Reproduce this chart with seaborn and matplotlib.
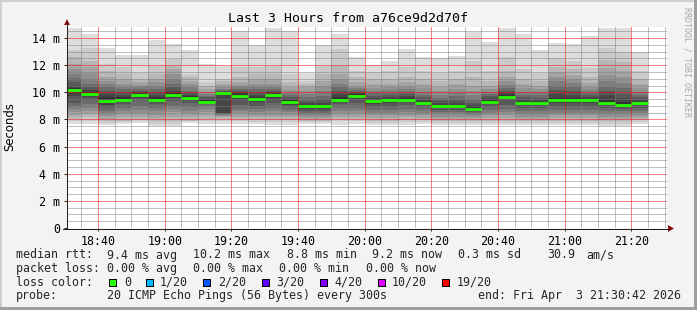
import numpy as np
import matplotlib
matplotlib.use("Agg")
import matplotlib.pyplot as plt
import seaborn as sns
from matplotlib.lines import Line2D
from matplotlib.patches import Rectangle, Polygon
from matplotlib.transforms import IdentityTransform

# ---------------- data ----------------
bucket_start = ["18:30", "18:35", "18:40", "18:45", "18:50", "18:55",
                "19:00", "19:05", "19:10", "19:15", "19:20", "19:25",
                "19:30", "19:35", "19:40", "19:45", "19:50", "19:55",
                "20:00", "20:05", "20:10", "20:15", "20:20", "20:25",
                "20:30", "20:35", "20:40", "20:45", "20:50", "20:55",
                "21:00", "21:05", "21:10", "21:15", "21:20"]

median_ms = [10.20, 9.87, 9.33, 9.43, 9.78, 9.43, 9.82, 9.57, 9.30, 9.93,
             9.74, 9.52, 9.77, 9.29, 8.98, 8.98, 9.47, 9.76, 9.33, 9.41,
             9.43, 9.19, 8.99, 8.99, 8.79, 9.31, 9.68, 9.19, 9.19, 9.41,
             9.41, 9.41, 9.24, 9.06, 9.19]

# 20 sorted ping round-trip times (ms) per 5-minute bucket
ping_ms = [
    [7.66, 7.85, 8.07, 8.27, 8.52, 8.76, 9.00, 9.25, 9.70, 10.10, 10.29, 10.48, 10.73, 11.05, 11.34, 11.70, 12.08, 12.57, 13.10, 14.73],
    [7.66, 7.90, 8.15, 8.40, 8.64, 8.88, 9.13, 9.40, 9.65, 9.85, 10.04, 10.19, 10.36, 10.60, 10.97, 11.39, 11.83, 12.30, 13.30, 14.29],
    [7.58, 7.75, 7.90, 8.07, 8.27, 8.45, 8.59, 8.88, 9.10, 9.30, 9.62, 9.87, 10.11, 10.36, 10.60, 10.85, 11.10, 11.59, 12.08, 13.26],
    [7.66, 7.80, 7.90, 8.15, 8.39, 8.64, 8.88, 9.13, 9.30, 9.40, 9.62, 9.80, 9.99, 10.21, 10.41, 10.65, 10.97, 11.34, 11.83, 12.77],
    [7.71, 7.85, 7.95, 8.15, 8.39, 8.70, 9.01, 9.40, 9.60, 9.75, 9.87, 9.99, 10.11, 10.21, 10.36, 10.53, 10.73, 10.97, 11.46, 12.77],
    [7.50, 7.66, 7.85, 8.10, 8.34, 8.64, 8.88, 9.13, 9.30, 9.40, 9.62, 9.80, 9.99, 10.24, 10.48, 10.73, 10.97, 11.34, 11.96, 13.85],
    [7.53, 7.66, 7.90, 8.20, 8.52, 8.80, 9.01, 9.38, 9.60, 9.80, 9.94, 10.11, 10.36, 10.65, 10.97, 11.34, 11.71, 11.96, 12.45, 13.55],
    [7.71, 7.85, 7.90, 8.15, 8.39, 8.64, 8.90, 9.25, 9.45, 9.55, 9.70, 9.82, 9.97, 10.11, 10.36, 10.60, 10.85, 11.10, 11.34, 13.11],
    [7.66, 7.85, 8.02, 8.27, 8.52, 8.76, 9.01, 9.15, 9.25, 9.28, 9.40, 9.50, 9.62, 9.74, 9.87, 10.04, 10.24, 10.48, 10.73, 12.08],
    [7.66, 7.85, 8.02, 8.15, 8.27, 8.34, 8.39, 8.42, 8.50, 9.85, 10.00, 10.04, 10.11, 10.16, 10.24, 10.36, 10.60, 10.85, 10.97, 11.96],
    [7.66, 7.85, 8.02, 8.20, 8.39, 8.59, 8.80, 9.10, 9.45, 9.70, 9.87, 9.99, 10.11, 10.24, 10.36, 10.53, 10.73, 11.10, 11.83, 14.49],
    [7.66, 7.80, 7.95, 8.15, 8.34, 8.52, 8.76, 9.01, 9.30, 9.50, 9.67, 9.82, 9.99, 10.21, 10.41, 10.65, 10.97, 11.34, 11.83, 13.50],
    [7.61, 7.80, 7.95, 8.15, 8.34, 8.59, 8.88, 9.20, 9.50, 9.75, 9.87, 9.99, 10.11, 10.24, 10.41, 10.65, 10.97, 11.34, 11.96, 14.73],
    [7.61, 7.80, 7.95, 8.15, 8.34, 8.52, 8.70, 8.90, 9.10, 9.27, 9.40, 9.50, 9.62, 9.80, 9.97, 10.16, 10.41, 10.73, 11.34, 14.54],
    [7.66, 7.80, 7.90, 8.02, 8.15, 8.30, 8.45, 8.60, 8.76, 8.95, 9.10, 9.25, 9.38, 9.62, 9.87, 10.11, 10.36, 10.60, 10.85, 11.46],
    [7.66, 7.80, 7.90, 8.02, 8.15, 8.30, 8.45, 8.60, 8.76, 8.95, 9.10, 9.25, 9.50, 9.74, 10.11, 10.48, 10.85, 11.34, 11.96, 13.50],
    [7.61, 7.85, 8.00, 8.15, 8.39, 8.64, 8.88, 9.13, 9.30, 9.45, 9.67, 9.87, 10.11, 10.36, 10.65, 10.97, 11.34, 11.96, 13.18, 14.29],
    [7.66, 7.85, 8.02, 8.20, 8.39, 8.59, 8.88, 9.20, 9.50, 9.75, 9.87, 9.94, 10.04, 10.16, 10.31, 10.48, 10.73, 11.10, 11.59, 12.60],
    [7.60, 7.75, 7.90, 8.10, 8.30, 8.50, 8.69, 8.95, 9.15, 9.30, 9.45, 9.60, 9.75, 9.92, 10.10, 10.30, 10.60, 10.97, 11.50, 12.00],
    [7.60, 7.75, 7.90, 8.10, 8.30, 8.50, 8.70, 8.95, 9.20, 9.38, 9.50, 9.65, 9.80, 9.97, 10.16, 10.36, 10.60, 10.97, 11.59, 12.30],
    [7.60, 7.80, 7.95, 8.15, 8.35, 8.55, 8.80, 9.05, 9.28, 9.42, 9.55, 9.70, 9.87, 10.04, 10.24, 10.48, 10.73, 11.10, 11.83, 13.18],
    [7.66, 7.80, 7.95, 8.10, 8.30, 8.50, 8.70, 8.90, 9.05, 9.17, 9.30, 9.45, 9.62, 9.82, 10.04, 10.30, 10.60, 10.97, 11.59, 12.62],
    [7.60, 7.75, 7.90, 8.05, 8.20, 8.40, 8.55, 8.70, 8.85, 8.97, 9.10, 9.25, 9.40, 9.60, 9.82, 10.11, 10.41, 10.85, 11.46, 12.50],
    [7.60, 7.75, 7.90, 8.05, 8.20, 8.40, 8.55, 8.70, 8.85, 8.97, 9.10, 9.25, 9.45, 9.70, 9.97, 10.24, 10.60, 11.00, 11.59, 12.67],
    [7.60, 7.75, 7.90, 8.02, 8.15, 8.30, 8.45, 8.58, 8.70, 8.78, 8.90, 9.05, 9.25, 9.50, 9.80, 10.11, 10.48, 11.10, 12.30, 14.46],
    [7.60, 7.75, 7.90, 8.10, 8.30, 8.50, 8.70, 8.95, 9.15, 9.28, 9.40, 9.55, 9.70, 9.87, 10.04, 10.24, 10.48, 10.85, 11.59, 13.72],
    [7.60, 7.75, 7.90, 8.10, 8.30, 8.55, 8.80, 9.10, 9.40, 9.65, 9.80, 9.94, 10.11, 10.30, 10.53, 10.80, 11.10, 11.60, 12.60, 14.71],
    [7.60, 7.75, 7.90, 8.05, 8.20, 8.40, 8.60, 8.85, 9.05, 9.17, 9.30, 9.45, 9.62, 9.82, 10.04, 10.30, 10.60, 11.00, 11.70, 14.29],
    [7.60, 7.75, 7.90, 8.05, 8.20, 8.40, 8.60, 8.85, 9.05, 9.17, 9.30, 9.45, 9.60, 9.80, 10.00, 10.24, 10.50, 10.85, 11.46, 13.11],
    [7.60, 7.75, 7.90, 8.10, 8.30, 8.50, 8.70, 8.95, 9.20, 9.38, 9.60, 9.90, 10.20, 10.50, 10.80, 11.10, 11.50, 11.90, 12.50, 13.65],
    [7.60, 7.75, 7.90, 8.10, 8.30, 8.50, 8.70, 8.95, 9.20, 9.38, 9.55, 9.80, 10.10, 10.40, 10.70, 11.00, 11.30, 11.70, 12.30, 13.55],
    [7.60, 7.75, 7.90, 8.10, 8.30, 8.50, 8.70, 8.95, 9.20, 9.38, 9.50, 9.65, 9.80, 9.97, 10.16, 10.40, 10.70, 11.10, 11.80, 14.14],
    [7.55, 7.70, 7.85, 8.00, 8.20, 8.40, 8.60, 8.85, 9.05, 9.22, 9.50, 9.80, 10.10, 10.40, 10.80, 11.30, 11.80, 12.40, 13.30, 14.71],
    [7.55, 7.70, 7.85, 8.00, 8.20, 8.40, 8.60, 8.80, 8.97, 9.05, 9.30, 9.60, 9.90, 10.30, 10.70, 11.10, 11.60, 12.20, 13.00, 14.71],
    [7.66, 7.80, 7.95, 8.10, 8.25, 8.45, 8.65, 8.85, 9.05, 9.17, 9.30, 9.45, 9.62, 9.82, 10.04, 10.30, 10.60, 10.97, 11.60, 12.94],
]

x_tick_labels = ["18:40", "19:00", "19:20", "19:40", "20:00", "20:20", "20:40", "21:00", "21:20"]
y_tick_values = [0, 2, 4, 6, 8, 10, 12, 14]
y_tick_labels = ["0", "2 m", "4 m", "6 m", "8 m", "10 m", "12 m", "14 m"]

loss_labels = ["0", "1/20", "2/20", "3/20", "4/20", "10/20", "19/20"]
loss_colors = ["#26ff00", "#00b8ff", "#0059ff", "#5e00ff", "#7e00ff", "#dd00ff", "#ff0000"]

title = "Last 3 Hours from a76ce9d2d70f"
window_start = "18:30:42"
window_end = "21:30:42"
bucket_minutes = 5

# ---------------- figure ----------------
sns.set_theme(style="white")
plt.rcParams["font.family"] = ["DejaVu Sans Mono", "DejaVu Sans"]

W, H = 697, 310
fig = plt.figure(figsize=(W / 100, H / 100), dpi=100, facecolor="#f3f3f3")


def to_min(s):
    parts = [int(p) for p in s.split(":")]
    return (parts[0] - 18) * 60 + parts[1] + (parts[2] / 60 if len(parts) > 2 else 0)


x0, x1 = to_min(window_start), to_min(window_end)
y_top = 14.8

ax_left, ax_right, ax_bottom, ax_topy = 67, 667, 228, 27.2
ax = fig.add_axes([ax_left / W, 1 - ax_bottom / H,
                   (ax_right - ax_left) / W, (ax_bottom - ax_topy) / H])
ax.set_facecolor("white")

t = np.array([to_min(s) for s in bucket_start])
P = np.array(ping_ms)

# smoke: nested bands, outermost lightest
half = 10
for i in range(1, half + 1):
    shade = int(190 / half * (half - i)) + 50
    col = "#%02x%02x%02x" % (shade, shade, shade)
    lo = P[:, i - 1]
    hi = P[:, 20 - i]
    ax.bar(t, hi - lo, bottom=lo, width=bucket_minutes, align="edge",
           color=col, linewidth=0, antialiased=False, zorder=1)

# median lines
ax.hlines(median_ms, t, t + bucket_minutes, colors=loss_colors[0],
          linewidth=2.0, zorder=3, capstyle="butt")

ax.set_xlim(x0, x1)
ax.set_ylim(0, y_top)

major_x = [to_min(s) for s in x_tick_labels]
minor_x = [m for m in np.arange(35, x1, 5) if m not in major_x]
ax.set_xticks(major_x)
ax.set_xticklabels(x_tick_labels)
ax.set_xticks(minor_x, minor=True)
ax.set_yticks(y_tick_values)
ax.set_yticklabels(y_tick_labels)
ax.set_yticks([v for v in np.arange(0.5, y_top, 0.5) if v not in y_tick_values], minor=True)

ax.set_axisbelow(False)
ax.grid(which="minor", color=(0.5, 0.5, 0.5, 0.3), linestyle=(0, (1, 1)),
        linewidth=0.72)
ax.grid(which="major", color=(1.0, 0.0, 0.0, 0.28), linestyle=(0, (1, 1)),
        linewidth=0.72)

for sp in ax.spines.values():
    sp.set_visible(False)

ax.tick_params(axis="both", which="both", direction="out", colors="#202020",
               labelsize=8.4, labelcolor="black")
ax.tick_params(axis="y", which="major", length=2.2, width=0.72, pad=2.5)
ax.tick_params(axis="y", which="minor", length=1.5, width=0.72)
ax.tick_params(axis="x", which="major", length=2.2, width=0.72, pad=2.5)
ax.tick_params(axis="x", which="minor", length=1.5, width=0.72)
ax.tick_params(left=True, bottom=True)

# ---------------- pixel helpers ----------------
ID = IdentityTransform()


def line_px(xs, ys, color, lw=1.0):
    fig.add_artist(Line2D(xs, [H - y for y in ys], transform=ID, color=color,
                          linewidth=lw * 0.72, solid_capstyle="butt", antialiased=False))


def rect_px(x, y, w, h, fc, ec="none", lw=0):
    fig.add_artist(Rectangle((x, H - y - h), w, h, transform=ID, facecolor=fc,
                             edgecolor=ec, linewidth=lw, antialiased=False))


def text_px(x, y, s, **kw):
    fig.text(x / W, 1 - y / H, s, **kw)


# axis lines and arrows
line_px([66.5, 66.5], [228, 22], "#202020")
line_px([63, 669], [228.5, 228.5], "#202020")
fig.add_artist(Polygon([(64, H - 25), (70, H - 25), (67, H - 19)], closed=True,
                       transform=ID, facecolor="#8c1010", edgecolor="none"))
fig.add_artist(Polygon([(668, H - 225), (668, H - 232), (674, H - 228.5)], closed=True,
                       transform=ID, facecolor="#8c1010", edgecolor="none"))

# frame of the image
rect_px(0, 0, W, 2, "#cfcfcf")
rect_px(0, 0, 2, H, "#cfcfcf")
rect_px(W - 3, 0, 3, H, "#9e9e9e")
rect_px(0, H - 3, W, 3, "#9e9e9e")

# title, axis label, watermark
text_px(348, 19, title, fontsize=9.5, ha="center", va="center", color="black")
text_px(10, 127, "Seconds", fontsize=8.4, rotation=90, ha="center", va="center",
        family="DejaVu Sans", color="black")
text_px(687, 62, "RRDTOOL / TOBI OETIKER", fontsize=6, rotation=270,
        ha="center", va="center", color="#a8a8a8")

# legend text
fs = 8.4
row1 = [(16, "median rtt:"), (107, "9.4 ms avg"), (193, "10.2 ms max"),
        (287, "8.8 ms min"), (372, "9.2 ms now"), (458, "0.3 ms sd"),
        (547, "30.9"), (586, "am/s")]
row2 = [(16, "packet loss:"), (107, "0.00 % avg"), (193, "0.00 % max"),
        (279, "0.00 % min"), (366, "0.00 % now")]
row4 = [(16, "probe:"), (107, "20 ICMP Echo Pings (56 Bytes) every 300s"),
        (478, "end: Fri Apr  3 21:30:42 2026")]
for x, s in row1:
    text_px(x, 255, s, fontsize=fs, ha="left", va="center")
for x, s in row2:
    text_px(x, 268.5, s, fontsize=fs, ha="left", va="center")
for x, s in row4:
    text_px(x, 296, s, fontsize=fs, ha="left", va="center")

text_px(16, 282, "loss color:", fontsize=fs, ha="left", va="center")
square_x = [109, 146, 203, 262, 320, 378, 442]
label_x = [124, 160, 218, 276, 334, 392, 457]
for sx, lx, lab, c in zip(square_x, label_x, loss_labels, loss_colors):
    rect_px(sx, 278.5, 7, 7, c, ec="black", lw=0.72)
    text_px(lx, 282, lab, fontsize=fs, ha="left", va="center")

fig.savefig("out.png", dpi=100, facecolor=fig.get_facecolor())
